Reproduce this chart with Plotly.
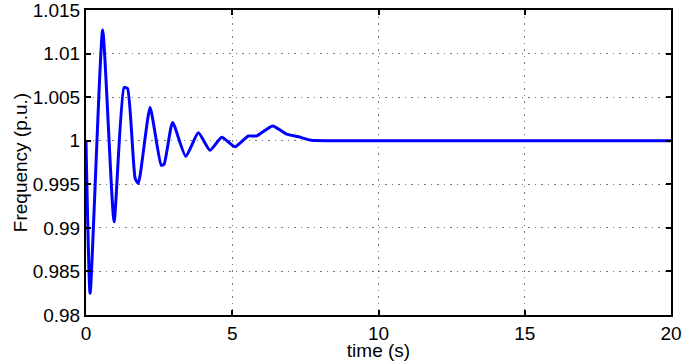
import plotly.graph_objects as go

time_s = [0.0, 0.14, 0.57, 0.96, 1.30, 1.42, 1.68, 1.79, 2.19, 2.57, 2.67, 2.96,
          3.41, 3.84, 4.24, 4.64, 5.09, 5.55, 5.83, 6.38, 6.86, 7.26, 7.71, 8.44, 20.0]
frequency_pu = [1.0, 0.9825, 1.0127, 0.9907, 1.0061, 1.0060, 0.9957, 0.9951, 1.0038,
                0.9972, 0.9973, 1.0021, 0.9982, 1.0009, 0.9989, 1.0004, 0.9993,
                1.00054, 1.00054, 1.0017, 1.00075, 1.00045, 1.00005, 1.0, 1.0]

x_ticks = [0, 5, 10, 15, 20]
y_ticks = [0.98, 0.985, 0.99, 0.995, 1.0, 1.005, 1.01, 1.015]
y_tick_labels = ["0.98", "0.985", "0.99", "0.995", "1", "1.005", "1.01", "1.015"]

fig = go.Figure()
fig.add_trace(go.Scatter(
    x=time_s, y=frequency_pu, mode="lines",
    line=dict(color="rgb(0,0,255)", width=3, shape="spline", smoothing=0.5),
    showlegend=False,
))

font = dict(family="Liberation Sans, Arial, sans-serif", size=19, color="black")
axis_common = dict(
    showline=True, linecolor="black", linewidth=2, mirror="ticks",
    ticks="inside", ticklen=5, tickwidth=1.5, tickcolor="black",
    showgrid=True, gridcolor="rgb(120,120,120)", gridwidth=1, griddash="1.5px,5px",
    zeroline=False, tickfont=font, automargin=False, ticklabeloverflow="allow",
)
fig.update_xaxes(range=[0, 20], tickvals=x_ticks, ticktext=[str(v) for v in x_ticks],
                 ticklabelstandoff=0,
                 title=dict(text="time (s)", font=font, standoff=0), **axis_common)
fig.update_yaxes(range=[0.98 - 1e-7, 1.015 + 1e-7], tickvals=y_ticks, ticktext=y_tick_labels,
                 ticklabelstandoff=0,
                 title=dict(text="Frequency (p.u.)", font=font, standoff=0), **axis_common)
fig.update_layout(
    width=685, height=361,
    margin=dict(l=86, r=14, t=10, b=46),
    paper_bgcolor="white", plot_bgcolor="white",
    font=font,
)
fig.write_html("out.html", config={"displayModeBar": False},
               post_script="document.body.style.margin='0';document.body.style.overflow='hidden';")
